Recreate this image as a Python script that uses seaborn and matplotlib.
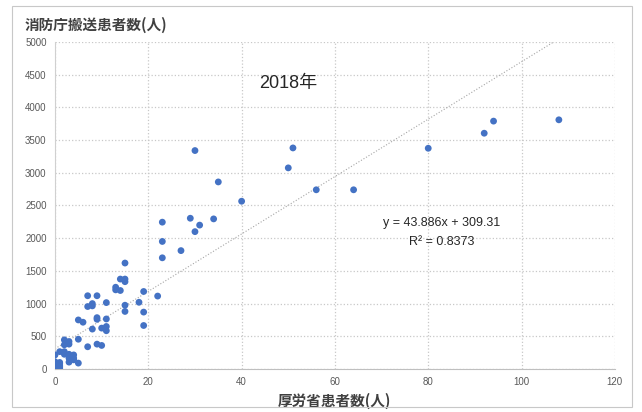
import seaborn as sns
import matplotlib.pyplot as plt
import matplotlib.patches as mpatches
import numpy as np
import pandas as pd

# 厚労省患者数 (x) と 消防庁搬送患者数 (y), 2018年
mhlw = [0, 0, 0, 0, 0, 0, 1, 1, 1, 1, 1,
        0, 1, 2, 2, 3, 4, 3, 4, 3, 5,
        2, 3, 2, 3, 5, 7, 9, 10, 4,
        5, 6, 9, 9, 8, 10, 11, 11, 11, 7, 8, 8, 7, 9, 11, 15, 15,
        13, 13, 14, 14, 15, 15, 15, 18, 19, 19, 19, 22,
        23, 23, 23, 27, 29, 30, 31, 34, 30, 35, 40, 50, 51, 56, 64, 80, 92, 94, 108]
fdma = [10, 30, 50, 70, 90, 110, 10, 30, 50, 80, 100,
        215, 265, 265, 225, 225, 215, 165, 165, 105, 90,
        445, 420, 370, 380, 455, 340, 380, 360, 140,
        750, 715, 785, 760, 610, 625, 765, 650, 585, 955, 965, 1000, 1120, 1120, 1015, 975, 880,
        1250, 1210, 1200, 1375, 1375, 1335, 1620, 1020, 1185, 870, 665, 1115,
        1700, 1950, 2245, 1810, 2305, 2100, 2200, 2295, 3340, 2860, 2565, 3075, 3380, 2740, 2740, 3375, 3605, 3790, 3810]

slope = 43.886
intercept = 309.31
r2 = 0.8373

df = pd.DataFrame({'x': mhlw, 'y': fdma})
trend_x = np.array([0, 108])
trend = pd.DataFrame({'x': trend_x, 'y': slope * trend_x + intercept})

sns.set_style('white')
plt.rcParams['font.family'] = ['Liberation Sans', 'Noto Sans CJK JP', 'DejaVu Sans']

fig = plt.figure(figsize=(6.42, 4.12), dpi=100)
ax = fig.add_axes([0.0857, 0.1044, 0.872, 0.7937])

# chart border
fig.patches.append(mpatches.Rectangle((12 / 642, 5 / 412), 620 / 642, 401 / 412,
                                      transform=fig.transFigure, fill=False,
                                      edgecolor='#c8c8c8', linewidth=0.8))

sns.lineplot(data=trend, x='x', y='y', ax=ax, color='#a6a6a6', linewidth=0.8,
             linestyle=':', zorder=2)
sns.scatterplot(data=df, x='x', y='y', ax=ax, color='#4472c4', s=24,
                edgecolor='none', zorder=3)

ax.set_xlim(0, 120)
ax.set_ylim(0, 5000)
ax.set_xticks(range(0, 121, 20))
ax.set_yticks(range(0, 5001, 500))
ax.grid(True, color='#c8c8c8', linestyle=':', linewidth=0.9)
for s in ['top', 'right']:
    ax.spines[s].set_visible(False)
ax.spines['left'].set_color('#d0d0d0')
ax.spines['bottom'].set_color('#bfbfbf')
ax.tick_params(labelsize=7, colors='#595959', length=0, pad=6)

ax.set_xlabel('厚労省患者数(人)', fontsize=10.5, color='#404040',
              family=['Noto Sans CJK JP'], fontweight='bold', labelpad=4)
ax.set_ylabel('')
fig.text(25 / 642, 1 - 25 / 412, '消防庁搬送患者数(人)', fontsize=10.5,
         color='#404040', family=['Noto Sans CJK JP'], fontweight='bold',
         va='center', ha='left')

ax.text(50, 4370, '2018年', fontsize=13, color='#262626',
        family=['Liberation Sans', 'Noto Sans CJK JP'], ha='center', va='center')
ax.text(82.8, 2230, f'y = {slope}x + {intercept}', fontsize=9, color='#262626',
        ha='center', va='center')
ax.text(82.8, 1945, f'R² = {r2}', fontsize=9, color='#262626',
        ha='center', va='center')

fig.savefig('out.png', dpi=100)
